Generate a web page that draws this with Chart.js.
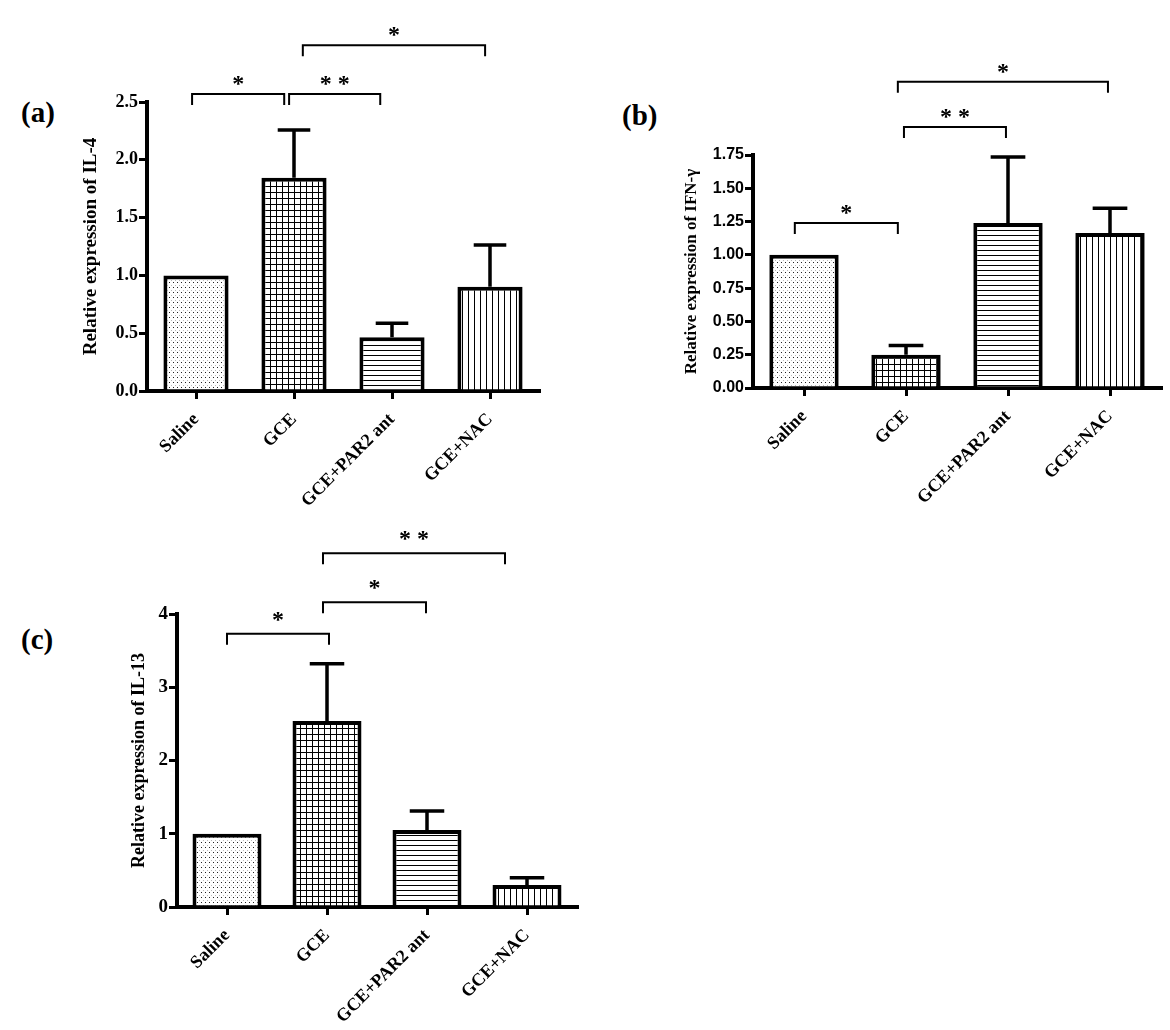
<!DOCTYPE html>
<html>
<head>
<meta charset="utf-8">
<script src="https://cdn.jsdelivr.net/npm/chart.js@4.4.1/dist/chart.umd.min.js"></script>
<style>
    body { margin: 0; background: #fff; width: 1170px; height: 1030px; position: relative; overflow: hidden; }
    .panel { position: absolute; }
    .tag { position: absolute; font: bold 29px "Liberation Serif"; line-height: 29px; color: #000; }
</style>
</head>
<body>
<div class="tag" style="left:21px; top:98px;">(a)</div>
<div class="tag" style="left:622px; top:101px;">(b)</div>
<div class="tag" style="left:21px; top:625px;">(c)</div>

<div class="panel" style="left:0; top:0;"><canvas id="chart-a" width="590" height="530"></canvas></div>
<div class="panel" style="left:600px; top:40px;"><canvas id="chart-b" width="570" height="500"></canvas></div>
<div class="panel" style="left:0; top:500px;"><canvas id="chart-c" width="600" height="530"></canvas></div>

<script>
// groups on the x axis (same for all three panels)
const categories = ['Saline', 'GCE', 'GCE+PAR2 ant', 'GCE+NAC'];

// (a) IL-4
const il4Mean = [1.0, 1.845, 0.464, 0.902];
const il4Sem = [0, 0.413, 0.122, 0.361];
const il4Ticks = [0, 0.5, 1.0, 1.5, 2.0, 2.5];
// [from group, to group, height, stars]
const il4Brackets = [[-0.04, 0.9, 2.57, '*'], [0.95, 1.88, 2.57, '**'], [1.09, 2.95, 2.99, '*']];

// (b) IFN-γ
const ifnMean = [1.0, 0.25, 1.24, 1.165];
const ifnSem = [0, 0.07, 0.495, 0.185];
const ifnTicks = [0, 0.25, 0.5, 0.75, 1.0, 1.25, 1.5, 1.75];
const ifnBrackets = [[-0.09, 0.92, 1.24, '*'], [0.98, 1.98, 1.96, '**'], [0.92, 2.98, 2.30, '*']];

// (c) IL-13
const il13Mean = [1.0, 2.54, 1.05, 0.30];
const il13Sem = [0, 0.78, 0.26, 0.10];
const il13Ticks = [0, 1, 2, 3, 4];
const il13Brackets = [[0, 1.02, 3.73, '*'], [0.96, 1.99, 4.16, '*'], [0.96, 2.78, 4.83, '**']];

Chart.defaults.font.family = 'Liberation Serif';
Chart.defaults.color = '#000';

function makePattern(w, h, draw) {
    const c = document.createElement('canvas');
    c.width = w;
    c.height = h;
    const g = c.getContext('2d');
    g.fillStyle = '#fff';
    g.fillRect(0, 0, w, h);
    draw(g);
    return g.createPattern(c, 'repeat');
}

function barFills() {
    const dots = makePattern(4, 5, g => {
        g.fillStyle = '#222';
        g.fillRect(1, 2, 1, 1);
        g.fillStyle = '#bbb';
        g.fillRect(3, 0, 1, 1);
    });
    const grid = makePattern(6, 6, g => {
        g.fillStyle = '#000';
        g.fillRect(0, 0, 6, 1);
        g.fillRect(0, 0, 1, 6);
    });
    const hLines = makePattern(5, 5, g => {
        g.fillStyle = '#000';
        g.fillRect(0, 0, 5, 1);
    });
    const vLines = makePattern(6, 6, g => {
        g.fillStyle = '#000';
        g.fillRect(0, 0, 1, 6);
    });
    return [dots, grid, hLines, vLines];
}

// error bars (upper half only) + significance brackets
function makeMarks(mean, sem, brackets, starGap) {
    return {
        id: 'marks',
        afterDatasetsDraw(chart) {
            const { ctx, scales: { x, y } } = chart;
            const meta = chart.getDatasetMeta(0);
            ctx.save();
            ctx.strokeStyle = '#000';
            ctx.fillStyle = '#000';
            ctx.lineWidth = 3.5;
            sem.forEach((s, i) => {
                if (!s) return;
                const bar = meta.data[i];
                const top = y.getPixelForValue(mean[i] + s);
                const cap = bar.width / 4;
                ctx.beginPath();
                ctx.moveTo(bar.x, bar.y);
                ctx.lineTo(bar.x, top);
                ctx.moveTo(bar.x - cap, top);
                ctx.lineTo(bar.x + cap, top);
                ctx.stroke();
            });
            ctx.lineWidth = 2;
            ctx.font = 'bold 24px "Liberation Serif"';
            ctx.textAlign = 'center';
            ctx.textBaseline = 'alphabetic';
            brackets.forEach(([a, b, v, label]) => {
                const x1 = x.getPixelForValue(a);
                const x2 = x.getPixelForValue(b);
                const py = y.getPixelForValue(v);
                ctx.beginPath();
                ctx.moveTo(x1, py + 11);
                ctx.lineTo(x1, py);
                ctx.lineTo(x2, py);
                ctx.lineTo(x2, py + 11);
                ctx.stroke();
                ctx.fillText(label.split('').join(' '), (x1 + x2) / 2, py - starGap);
            });
            ctx.restore();
        }
    };
}

function makePanel(id, p) {
    const ctx = document.getElementById(id).getContext('2d');
    return new Chart(ctx, {
        type: 'bar',
        data: {
            labels: categories,
            datasets: [{
                data: p.mean,
                backgroundColor: barFills(),
                borderColor: '#000',
                borderWidth: 4,
                borderSkipped: 'start',
                categoryPercentage: 1,
                barPercentage: p.barPct
            }]
        },
        options: {
            responsive: false,
            animation: false,
            devicePixelRatio: 1,
            layout: { padding: p.padding },
            plugins: { legend: { display: false }, tooltip: { enabled: false } },
            scales: {
                x: {
                    afterFit: s => { s.height = p.xHeight; },
                    ticks: {
                        autoSkip: false,
                        maxRotation: 45,
                        minRotation: 45,
                        padding: 10,
                        color: '#000',
                        font: { family: 'Liberation Serif', size: 18, weight: 'bold' }
                    },
                    grid: { offset: false, drawOnChartArea: false, tickLength: 8, lineWidth: 3, color: '#000' },
                    border: { display: true, color: '#000', width: 4 }
                },
                y: {
                    min: 0,
                    max: p.ticks[p.ticks.length - 1],
                    afterFit: s => { s.width = p.yWidth; },
                    afterBuildTicks: s => { s.ticks = p.ticks.map(v => ({ value: v })); },
                    ticks: {
                        padding: 1,
                        color: '#000',
                        callback: v => v.toFixed(p.decimals),
                        font: p.tickFont
                    },
                    grid: { drawOnChartArea: false, tickLength: 8, lineWidth: 3, color: '#000' },
                    border: { display: true, color: '#000', width: 4 },
                    title: {
                        display: true,
                        text: p.title,
                        color: '#000',
                        padding: { top: p.titlePad, bottom: 0 },
                        font: { family: 'Liberation Serif', size: p.titleSize, weight: 'bold' }
                    }
                }
            }
        },
        plugins: [makeMarks(p.mean, p.sem, p.brackets, p.starGap)]
    });
}

makePanel('chart-a', {
    mean: il4Mean, sem: il4Sem, ticks: il4Ticks, brackets: il4Brackets, decimals: 1,
    title: 'Relative expression of IL-4', titleSize: 19, titlePad: 5,
    tickFont: { family: 'Liberation Serif', size: 18, weight: 'bold' },
    padding: { left: 75, top: 102, right: 51, bottom: 0 }, yWidth: 72, xHeight: 139,
    barPct: 0.665, starGap: 3
});

makePanel('chart-b', {
    mean: ifnMean, sem: ifnSem, ticks: ifnTicks, brackets: ifnBrackets, decimals: 2,
    title: 'Relative expression of IFN-γ', titleSize: 17, titlePad: 6,
    tickFont: { family: 'Liberation Sans', size: 16, weight: 'bold' },
    padding: { left: 75, top: 115, right: 9, bottom: 0 }, yWidth: 78, xHeight: 152,
    barPct: 0.68, starGap: 3
});

makePanel('chart-c', {
    mean: il13Mean, sem: il13Sem, ticks: il13Ticks, brackets: il13Brackets, decimals: 0,
    title: 'Relative expression of IL-13', titleSize: 18, titlePad: 9,
    tickFont: { family: 'Liberation Serif', size: 19, weight: 'bold' },
    padding: { left: 120, top: 114, right: 23, bottom: 0 }, yWidth: 57, xHeight: 123,
    barPct: 0.69, starGap: 7
});
</script>
</body>
</html>
